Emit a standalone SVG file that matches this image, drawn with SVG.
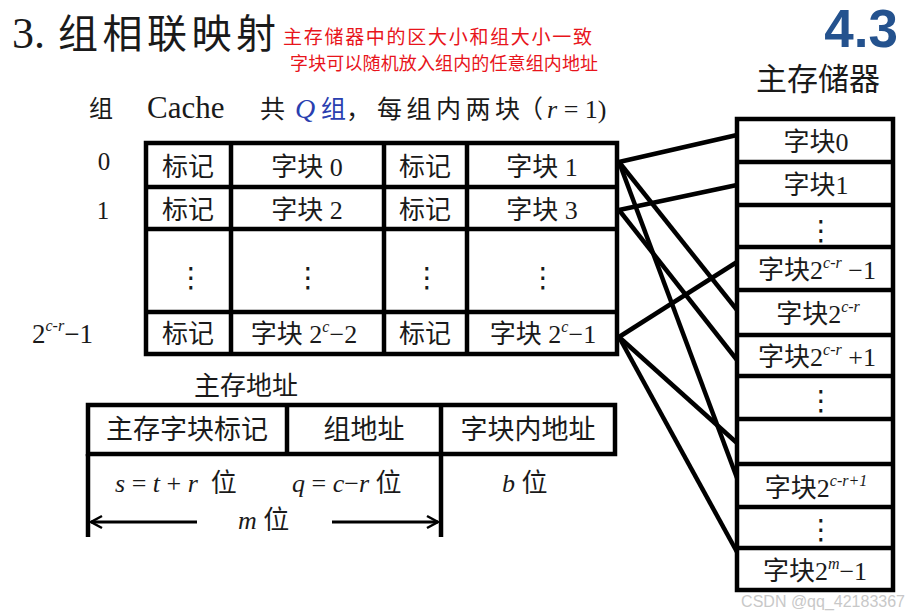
<svg xmlns="http://www.w3.org/2000/svg" width="907" height="615" viewBox="0 0 907 615" font-size="26">
<style>
.ln{stroke:#000;stroke-width:4.5;fill:none}
.bx{fill:#fff;stroke:#000;stroke-width:4.5}
.cn{stroke:#000;stroke-width:4.5;fill:none}
.t{font-family:"Liberation Serif","Noto Sans CJK SC",serif;fill:#1a1a1a;text-anchor:middle}
.ts{font-family:"Liberation Serif","Noto Sans CJK SC",serif;fill:#1a1a1a}
.dots{font-family:"DejaVu Sans",sans-serif;fill:#1a1a1a;text-anchor:middle}
.i{font-style:italic}
.red{font-family:"Noto Sans CJK SC",sans-serif;fill:#e8141b}
</style>
<defs>
<marker id="ah" markerUnits="userSpaceOnUse" markerWidth="16" markerHeight="16" refX="13" refY="8" orient="auto">
<path d="M2,2 L13,8 L2,14" fill="none" stroke="#000" stroke-width="2.5"/>
</marker>
</defs>
<rect width="907" height="615" fill="#fff"/>

<g id="title">
<text x="12" y="48" font-size="44" style="font-family:'Liberation Serif',serif;fill:#1a1a1a">3.</text>
<text x="58" y="48" font-size="40" textLength="218" lengthAdjust="spacing" style="font-family:'Noto Sans CJK SC',sans-serif;fill:#1a1a1a">组相联映射</text>
</g>
<g id="note">
<text class="red" x="283" y="44" font-size="19" textLength="309" lengthAdjust="spacing">主存储器中的区大小和组大小一致</text>
<text class="red" x="290" y="70" font-size="18" textLength="308" lengthAdjust="spacing">字块可以随机放入组内的任意组内地址</text>
</g>
<g id="section">
<text x="898" y="47" text-anchor="end" font-size="53" style="font-family:'Liberation Sans',sans-serif;font-weight:bold;fill:#24528e">4.3</text>
</g>

<g id="cache-header">
<text class="t" x="101" y="117" font-size="24">组</text>
<text class="ts" x="147" y="118" font-size="31">Cache</text>
<text class="ts" x="260" y="118" font-size="25">共</text>
<text class="ts i" x="295" y="118" font-size="28" style="fill:#2a3fb0">Q</text>
<text class="ts" x="321" y="118" font-size="25" style="fill:#2a3fb0">组</text>
<text class="ts" x="346" y="118" font-size="25">，</text>
<text class="ts" x="377" y="118" font-size="25" textLength="143" lengthAdjust="spacing">每组内两块</text>
<text class="ts" x="518" y="118" font-size="25">（</text>
<text class="ts" x="547" y="118" font-size="26"><tspan class="i">r</tspan>&#160;=&#160;1)</text>
</g>

<g id="set-labels">
<text class="t" x="104" y="170" font-size="25">0</text>
<text class="t" x="103" y="219" font-size="25">1</text>
<text class="ts" x="32" y="343" font-size="27">2<tspan font-size="16" class="i" dy="-12">c-r</tspan><tspan dy="12">−1</tspan></text>
</g>

<g id="cache">
<rect class="bx" x="146" y="143" width="471" height="211"/>
<line class="ln" x1="146" y1="187" x2="617" y2="187"/>
<line class="ln" x1="146" y1="229" x2="617" y2="229"/>
<line class="ln" x1="146" y1="312" x2="617" y2="312"/>
<line class="ln" x1="231" y1="143" x2="231" y2="354"/>
<line class="ln" x1="384" y1="143" x2="384" y2="354"/>
<line class="ln" x1="467" y1="143" x2="467" y2="354"/>
<g id="set0">
<text class="t" x="188" y="176">标记</text>
<text class="t" x="307" y="176">字块 0</text>
<text class="t" x="425" y="176">标记</text>
<text class="t" x="542" y="176">字块 1</text>
</g>
<g id="set1">
<text class="t" x="188" y="219">标记</text>
<text class="t" x="307" y="219">字块 2</text>
<text class="t" x="425" y="219">标记</text>
<text class="t" x="542" y="219">字块 3</text>
</g>
<g id="set-dots">
<text class="dots" x="191" y="287" font-size="28">⋮</text>
<text class="dots" x="308" y="287" font-size="28">⋮</text>
<text class="dots" x="427" y="287" font-size="28">⋮</text>
<text class="dots" x="543" y="287" font-size="28">⋮</text>
</g>
<g id="set-last">
<text class="t" x="188" y="343">标记</text>
<text class="t" x="304" y="343">字块 2<tspan font-size="16" class="i" dy="-11">c</tspan><tspan dy="11">−2</tspan></text>
<text class="t" x="425" y="343">标记</text>
<text class="t" x="543" y="343">字块 2<tspan font-size="16" class="i" dy="-11">c</tspan><tspan dy="11">−1</tspan></text>
</g>
</g>

<g id="memory-title">
<text class="t" x="818" y="90" font-size="31">主存储器</text>
</g>
<g id="memory">
<rect class="bx" x="737" y="119" width="156" height="471"/>
<line class="ln" x1="737" y1="162" x2="893" y2="162"/>
<line class="ln" x1="737" y1="205" x2="893" y2="205"/>
<line class="ln" x1="737" y1="247" x2="893" y2="247"/>
<line class="ln" x1="737" y1="290" x2="893" y2="290"/>
<line class="ln" x1="737" y1="335" x2="893" y2="335"/>
<line class="ln" x1="737" y1="376" x2="893" y2="376"/>
<line class="ln" x1="737" y1="419" x2="893" y2="419"/>
<line class="ln" x1="737" y1="464" x2="893" y2="464"/>
<line class="ln" x1="737" y1="507" x2="893" y2="507"/>
<line class="ln" x1="737" y1="548" x2="893" y2="548"/>
<g id="mb0"><text class="t" x="816" y="151">字块0</text></g>
<g id="mb1"><text class="t" x="816" y="194">字块1</text></g>
<g id="mb-dots1"><text class="dots" x="821" y="240" font-size="28">⋮</text></g>
<g id="mb-q-1"><text class="t" x="817" y="279">字块2<tspan font-size="16" class="i" dy="-11">c-r</tspan><tspan dy="11"> −1</tspan></text></g>
<g id="mb-q"><text class="t" x="818" y="323">字块2<tspan font-size="16" class="i" dy="-11">c-r</tspan></text></g>
<g id="mb-q+1"><text class="t" x="817" y="366">字块2<tspan font-size="16" class="i" dy="-11">c-r</tspan><tspan dy="11"> +1</tspan></text></g>
<g id="mb-dots2"><text class="dots" x="821" y="410" font-size="28">⋮</text></g>
<g id="mb-empty"></g>
<g id="mb-2q"><text class="t" x="816" y="497">字块2<tspan font-size="16" class="i" dy="-11">c-r+1</tspan></text></g>
<g id="mb-dots3"><text class="dots" x="821" y="539" font-size="28">⋮</text></g>
<g id="mb-last"><text class="t" x="815" y="580">字块2<tspan font-size="16" class="i" dy="-11">m</tspan><tspan dy="11">−1</tspan></text></g>
</g>

<g id="connectors">
<line class="cn" x1="619" y1="162" x2="737" y2="135"/>
<line class="cn" x1="619" y1="162" x2="737" y2="310"/>
<line class="cn" x1="619" y1="162" x2="737" y2="478"/>
<line class="cn" x1="619" y1="210" x2="737" y2="185"/>
<line class="cn" x1="619" y1="210" x2="737" y2="360"/>
<line class="cn" x1="619" y1="337" x2="737" y2="262"/>
<line class="cn" x1="619" y1="337" x2="737" y2="443"/>
<line class="cn" x1="619" y1="337" x2="737" y2="552"/>
</g>

<g id="address">
<text class="t" x="246" y="395">主存地址</text>
<rect class="bx" x="88" y="405" width="527" height="49"/>
<line class="ln" x1="287" y1="405" x2="287" y2="454"/>
<line class="ln" x1="441" y1="405" x2="441" y2="537"/>
<line class="ln" x1="88" y1="454" x2="88" y2="537"/>
<text class="t" x="187" y="439" font-size="27">主存字块标记</text>
<text class="t" x="364" y="439" font-size="27">组地址</text>
<text class="t" x="528" y="439" font-size="27">字块内地址</text>
<text class="ts" x="115" y="492"><tspan class="i">s</tspan> = <tspan class="i">t</tspan> + <tspan class="i">r</tspan>&#160; 位</text>
<text class="ts" x="292" y="492"><tspan class="i">q</tspan> = <tspan class="i">c</tspan>−<tspan class="i">r</tspan> 位</text>
<text class="ts" x="502" y="492"><tspan class="i">b</tspan> 位</text>
<text class="ts" x="238" y="529"><tspan class="i">m</tspan> 位</text>
<line x1="197" y1="522" x2="91" y2="522" stroke="#000" stroke-width="3" marker-end="url(#ah)"/>
<line x1="332" y1="522" x2="438" y2="522" stroke="#000" stroke-width="3" marker-end="url(#ah)"/>
</g>

<g id="watermark">
<text x="905" y="607" text-anchor="end" font-size="16" style="font-family:'Liberation Sans',sans-serif;fill:#c8c8c8">CSDN @qq_42183367</text>
</g>
</svg>
